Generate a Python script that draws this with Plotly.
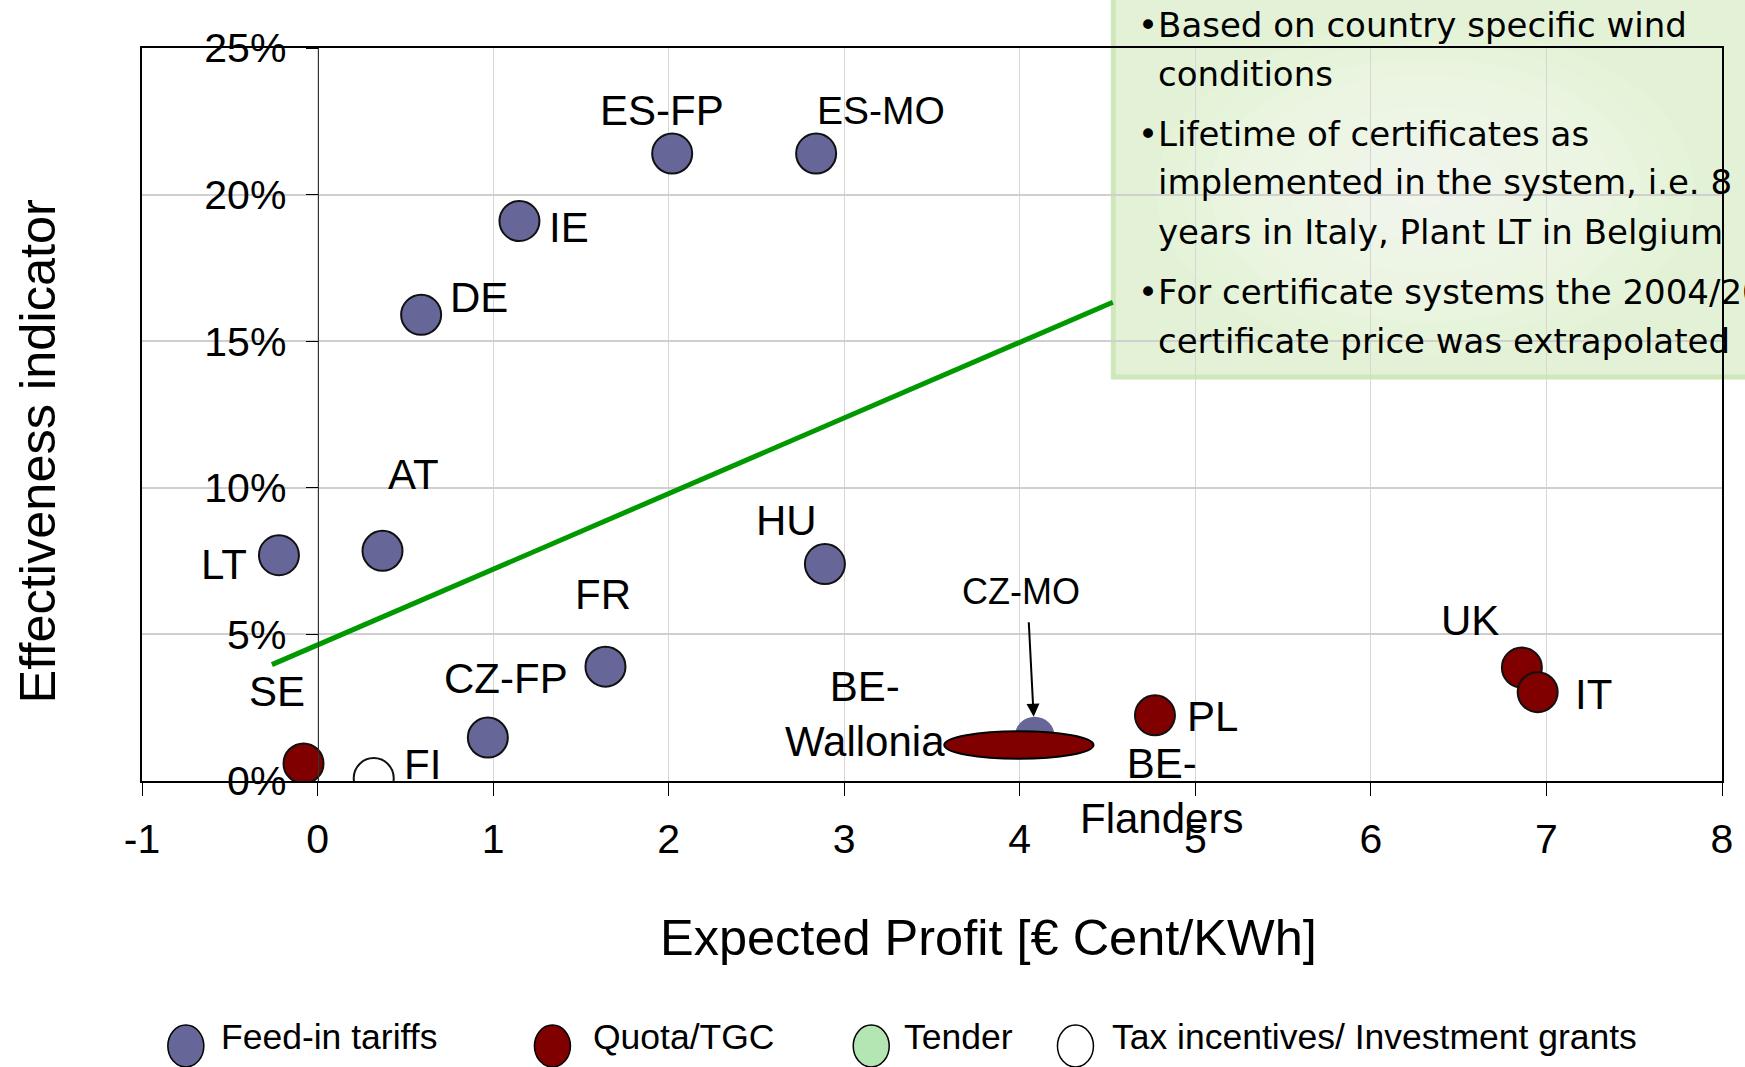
import plotly.graph_objects as go

# ---- data -------------------------------------------------------------
feed_in_labels = ["ES-FP", "ES-MO", "IE", "DE", "AT", "LT", "HU", "FR", "CZ-FP", "CZ-MO"]
feed_in_profit = [2.02, 2.84, 1.15, 0.59, 0.37, -0.22, 2.89, 1.64, 0.97, 4.085]
feed_in_eff = [21.4, 21.4, 19.1, 15.9, 7.85, 7.7, 7.4, 3.9, 1.48, 1.51]

quota_labels = ["SE", "PL", "UK", "IT"]
quota_profit = [-0.08, 4.77, 6.86, 6.95]
quota_eff = [0.6, 2.24, 3.87, 3.03]

tax_labels = ["FI"]
tax_profit = [0.32]
tax_eff = [0.1]

# Belgian quota systems shown as one range (Wallonia / Flanders)
be_labels = ["BE-<br>Wallonia", "BE-<br>Flanders"]
be_profit_range = [3.57, 4.42]
be_eff_range = [0.76, 1.70]

# trend line end points
trend_profit = [-0.26, 4.53]
trend_eff = [3.97, 16.33]

x_ticks = [-1, 0, 1, 2, 3, 4, 5, 6, 7, 8]
x_tick_text = ["-1", "0", "1", "2", "3", "4", "5", "6", "7", "8"]
y_ticks = [0, 5, 10, 15, 20, 25]
y_tick_text = ["0%", "5%", "10%", "15%", "20%", "25%"]

legend_labels = ["Feed-in tariffs", "Quota/TGC", "Tender", "Tax incentives/ Investment grants"]
legend_colors = ["#666699", "#800000", "#b3e6b3", "#ffffff"]

box_lines = [
    "•Based on country specific wind",
    "conditions",
    "•Lifetime of certificates as",
    "implemented in the system, i.e. 8",
    "years in Italy, Plant LT in Belgium",
    "•For certificate systems the 2004/2005",
    "certificate price was extrapolated",
]

# ---- layout geometry (pixels) -------------------------------------------
W, H = 1745, 1067
ML, MR, MT, MB = 142, 17, 48, 286
PW, PH = W - ML - MR, H - MT - MB


def px(xp):
    return (xp - ML) / PW


def py(yp):
    return (H - MB - yp) / PH


FONT = "Liberation Sans, Arial, sans-serif"
BLUE, RED = "#666699", "#800000"

fig = go.Figure()

# trend line
fig.add_trace(go.Scatter(
    x=trend_profit, y=trend_eff, mode="lines",
    line=dict(color="#009900", width=5), showlegend=False, hoverinfo="skip"))

marker_line = dict(color="#111111", width=2)
fig.add_trace(go.Scatter(
    x=feed_in_profit, y=feed_in_eff, mode="markers", name=legend_labels[0],
    text=feed_in_labels, showlegend=False,
    marker=dict(size=40, color=BLUE, line=dict(color="#111111",
                width=[2] * (len(feed_in_labels) - 1) + [0]))))
fig.add_trace(go.Scatter(
    x=quota_profit, y=quota_eff, mode="markers", name=legend_labels[1],
    text=quota_labels, showlegend=False,
    marker=dict(size=40, color=RED, line=marker_line)))
fig.add_trace(go.Scatter(
    x=tax_profit, y=tax_eff, mode="markers", name=legend_labels[3],
    text=tax_labels, showlegend=False,
    marker=dict(size=40, color="white", line=marker_line)))

# label offsets from each point (px, y up)
label_shift = {
    "ES-FP": (-10, 43), "ES-MO": (65, 43), "IE": (50, -7), "DE": (58, 17),
    "AT": (31, 76), "LT": (-55, -9), "HU": (-38, 44), "FR": (-2, 72),
    "CZ-FP": (18, 59), "CZ-MO": (-14, 145),
    "SE": (-27, 72), "PL": (58, -1), "UK": (-52, 47), "IT": (56, -2),
    "FI": (49, 14),
}
label_size = {"CZ-MO": 36, "ES-MO": 39}

annotations = []
for labels, xs, ys in [(feed_in_labels, feed_in_profit, feed_in_eff),
                       (quota_labels, quota_profit, quota_eff),
                       (tax_labels, tax_profit, tax_eff)]:
    for lab, xv, yv in zip(labels, xs, ys):
        dx, dy = label_shift[lab]
        annotations.append(dict(
            x=xv, y=yv, xref="x", yref="y", text=lab, showarrow=False,
            xshift=dx, yshift=dy, xanchor="center", yanchor="middle",
            font=dict(family=FONT, size=label_size.get(lab, 42), color="black")))

# CZ-MO pointer
annotations.append(dict(
    x=feed_in_profit[-1], y=feed_in_eff[-1], xref="x", yref="y", text="",
    showarrow=True, ax=-6, ay=-116, standoff=20, arrowhead=2, arrowsize=1.3,
    arrowwidth=2, arrowcolor="black"))

# Belgian labels around the range ellipse
be_mid = (be_eff_range[0] + be_eff_range[1]) / 2
annotations.append(dict(
    x=be_profit_range[0], y=be_mid, xref="x", yref="y", text=be_labels[0],
    showarrow=False, xshift=-79, yshift=31, xanchor="center", yanchor="middle",
    font=dict(family=FONT, size=42, color="black")))
annotations.append(dict(
    x=be_profit_range[1], y=be_mid, xref="x", yref="y", text=be_labels[1],
    showarrow=False, xshift=68, yshift=-46, xanchor="center", yanchor="middle",
    font=dict(family=FONT, size=42, color="black")))

# axis titles
annotations.append(dict(
    x=px(992), y=py(937), xref="paper", yref="paper",
    text="Expected Profit [€ Cent/KWh]", showarrow=False,
    xanchor="center", yanchor="middle",
    font=dict(family=FONT, size=50.5, color="black")))
annotations.append(dict(
    x=px(37), y=py(451), xref="paper", yref="paper",
    text="Effectiveness indicator", showarrow=False, textangle=-90,
    xanchor="center", yanchor="middle",
    font=dict(family=FONT, size=50.5, color="black")))

# note box text
box_y = [25, 74, 134, 182, 232, 292, 341]
for txt, yy in zip(box_lines, box_y):
    xx = 1140 if txt.startswith("•") else 1160
    annotations.append(dict(
        x=px(xx), y=py(yy), xref="paper", yref="paper", text=txt,
        showarrow=False, xanchor="left", yanchor="middle",
        font=dict(family="DejaVu Sans, sans-serif", size=34, color="black")))

# legend entries
legend_cx = [186, 554, 874, 1079]
legend_tx = [219, 593, 905, 1114]
for lab, tx in zip(legend_labels, legend_tx):
    annotations.append(dict(
        x=px(tx), y=py(1037), xref="paper", yref="paper", text=lab,
        showarrow=False, xanchor="left", yanchor="middle",
        font=dict(family=FONT, size=35.5, color="black")))

shapes = []
# note box with soft radial highlight
shapes.append(dict(
    type="rect", xref="paper", yref="paper",
    x0=px(1117), x1=px(1770), y0=py(377), y1=py(-10),
    fillcolor="#e3f2d6", line=dict(color="#cfe8ba", width=5), layer="below"))
for i in range(10):
    f = 1 - i / 10
    shapes.append(dict(
        type="circle", xref="paper", yref="paper",
        x0=px(1430 - 270 * f), x1=px(1430 + 270 * f),
        y0=py(190 + 165 * f), y1=py(190 - 165 * f),
        fillcolor="white", opacity=0.09, line=dict(width=0), layer="below"))

# Belgian range ellipse
shapes.append(dict(
    type="circle", xref="x", yref="y",
    x0=be_profit_range[0], x1=be_profit_range[1],
    y0=be_eff_range[0], y1=be_eff_range[1],
    fillcolor=RED, line=dict(color="black", width=2), layer="above"))

# legend symbols
for col, cx in zip(legend_colors, legend_cx):
    shapes.append(dict(
        type="circle", xref="paper", yref="paper",
        xsizemode="pixel", ysizemode="pixel",
        xanchor=px(cx), yanchor=py(1046),
        x0=-18, x1=18, y0=-21, y1=21,
        fillcolor=col, line=dict(color="black", width=1.5)))

fig.update_layout(
    width=W, height=H,
    margin=dict(l=ML, r=MR, t=MT, b=MB, pad=0),
    paper_bgcolor="white", plot_bgcolor="rgba(0,0,0,0)",
    showlegend=False,
    font=dict(family=FONT, color="black"),
    xaxis=dict(
        range=[-1, 8], tickvals=x_ticks, ticktext=x_tick_text, ticks="outside",
        ticklen=13, tickwidth=1, tickcolor="black", showline=True,
        linecolor="black", linewidth=1.5, mirror=True, showgrid=True,
        gridcolor="#d6d6d6", gridwidth=1, zeroline=False, ticklabelstandoff=8,
        tickfont=dict(family=FONT, size=41, color="black")),
    yaxis=dict(
        range=[0, 25], tickvals=y_ticks, ticks="", showticklabels=False,
        showline=True, linecolor="black", linewidth=1.5, mirror=True,
        showgrid=True, gridcolor="#cfcfcf", gridwidth=2, zeroline=False),
    yaxis2=dict(
        range=[0, 25], overlaying="y", anchor="free", position=1 / 9,
        side="left", tickvals=y_ticks, ticktext=y_tick_text, ticks="outside",
        ticklen=12, tickcolor="black", showline=True, linecolor="#333333",
        linewidth=1, showgrid=False, zeroline=False, ticklabelstandoff=11,
        tickfont=dict(family=FONT, size=41, color="black")),
    annotations=annotations,
    shapes=shapes,
)

# invisible trace so that the secondary y axis is drawn
fig.add_trace(go.Scatter(x=[None], y=[None], yaxis="y2", showlegend=False,
                         hoverinfo="skip"))

fig.write_html("out.html")
